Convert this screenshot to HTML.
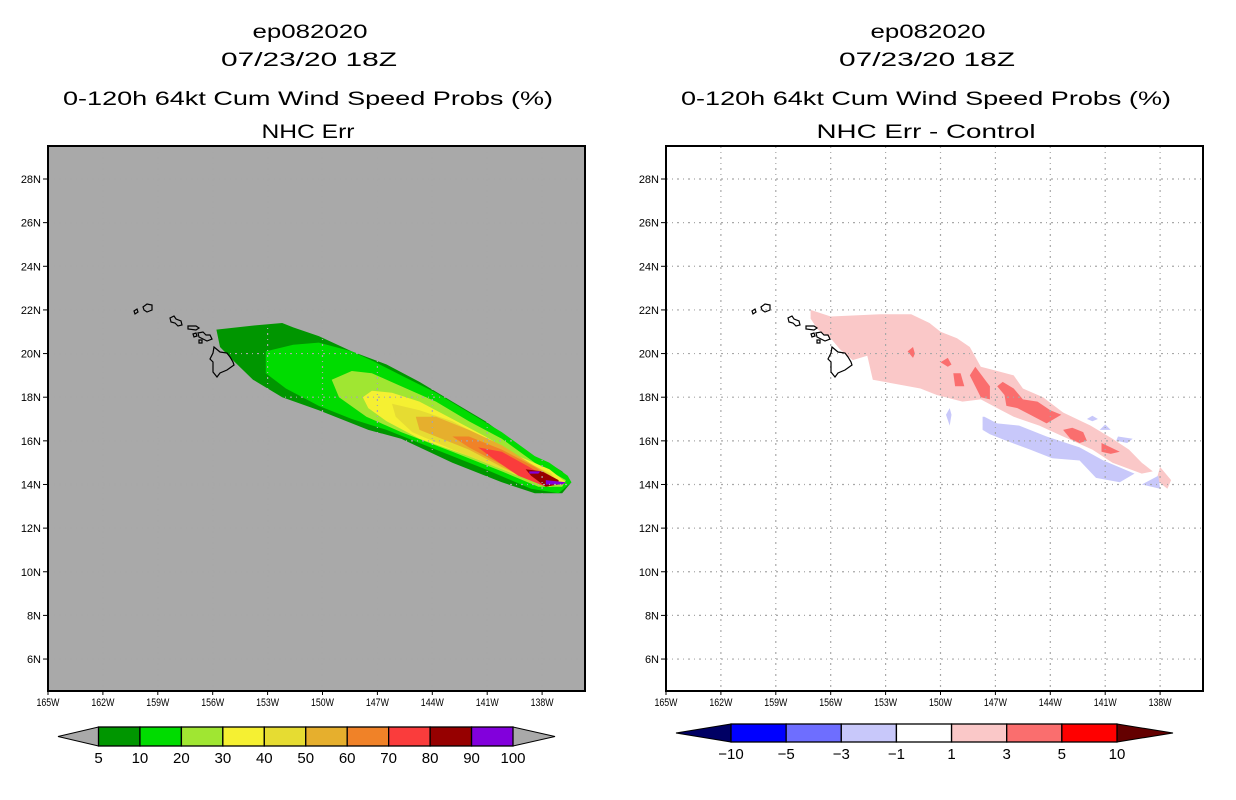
<!DOCTYPE html>
<html><head><meta charset="utf-8">
<style>
html,body{margin:0;padding:0;background:#fff;}
svg{display:block;}
text{font-family:"Liberation Sans",sans-serif;fill:#000;}
</style></head>
<body>
<svg id="chart" width="1236" height="800" viewBox="0 0 1236 800" xmlns="http://www.w3.org/2000/svg">
<g id="titles">
  <text x="310" y="38" font-size="19" text-anchor="middle" textLength="115" lengthAdjust="spacingAndGlyphs">ep082020</text>
  <text x="309" y="66" font-size="19" text-anchor="middle" textLength="176" lengthAdjust="spacingAndGlyphs">07/23/20 18Z</text>
  <text x="308" y="105" font-size="19" text-anchor="middle" textLength="490" lengthAdjust="spacingAndGlyphs">0-120h 64kt Cum Wind Speed Probs (%)</text>
  <text x="308" y="138" font-size="19" text-anchor="middle" textLength="93" lengthAdjust="spacingAndGlyphs">NHC Err</text>
  <text x="928" y="38" font-size="19" text-anchor="middle" textLength="115" lengthAdjust="spacingAndGlyphs">ep082020</text>
  <text x="927" y="66" font-size="19" text-anchor="middle" textLength="176" lengthAdjust="spacingAndGlyphs">07/23/20 18Z</text>
  <text x="926" y="105" font-size="19" text-anchor="middle" textLength="490" lengthAdjust="spacingAndGlyphs">0-120h 64kt Cum Wind Speed Probs (%)</text>
  <text x="926" y="138" font-size="19" text-anchor="middle" textLength="219" lengthAdjust="spacingAndGlyphs">NHC Err - Control</text>
</g>
<g id="leftPanel"></g>
<g id="rightPanel"></g>
<g id="leftBar"></g>
<g id="rightBar"></g>
</svg>
<script>
// ---------- data ----------
const lonTicks = [165,162,159,156,153,150,147,144,141,138];
const latTicks = [6,8,10,12,14,16,18,20,22,24,26,28];
const probLevels = ["5","10","20","30","40","50","60","70","80","90","100"];
const probColors = ["#009600","#00dc00","#a0e632","#f5f032","#e6dc32","#e6af2d","#f08228","#fa3c3c","#960000","#8200dc"];
const diffLevels = ["-10","-5","-3","-1","1","3","5","10"];
const diffColors = ["#0000ff","#6e6eff","#c8c8fa","#ffffff","#fac8c8","#fa6e6e","#ff0000"];
// probability contours (lon deg W, lat deg N)
const p5Lon = [155.8,153.6,152.2,151.6,150.2,148.4,146.5,144.7,142.9,141.1,139.3,138.2,137.5,136.9,136.4,136.9,138.4,140.2,142.9,145.7,147.5,150.2,152.2,153.8,154.9,155.6];
const p5Lat = [21.1,21.3,21.4,21.2,20.8,20.1,19.5,18.7,17.8,16.9,15.8,15.0,14.9,14.6,14.1,13.6,13.6,14.1,15.0,16.1,16.5,17.4,18.0,18.8,19.7,20.3];
const p10Lon = [153.1,151.6,150.2,148.4,147.1,145.7,143.8,142.0,140.2,138.4,137.6,136.6,136.4,137.1,138.6,141.1,143.8,146.5,148.4,150.2,152.0,153.1];
const p10Lat = [20.1,20.4,20.5,20.1,19.6,19.0,18.2,17.3,16.4,15.3,15.0,14.4,14.1,13.6,13.8,14.7,15.6,16.5,17.0,17.6,18.4,19.1];
const p20Lon = [149.5,148.4,147.3,145.7,143.8,142.0,140.2,138.4,136.7,136.9,138.2,140.2,142.9,145.7,147.6,149.1];
const p20Lat = [18.8,19.2,19.1,18.5,17.8,16.9,16.1,15.0,14.2,13.9,13.9,14.6,15.5,16.4,17.1,18.0];
const p30Lon = [147.8,147.3,146.2,144.7,142.9,141.1,139.3,137.6,136.7,137.6,139.3,142.0,144.7,146.5,147.5];
const p30Lat = [18.0,18.3,18.2,17.8,17.0,16.2,15.3,14.7,14.1,13.9,14.4,15.3,16.1,16.9,17.5];
const p40Lon = [146.2,144.7,142.9,141.1,139.3,137.5,137.1,138.4,140.2,142.9,145.1,146.0];
const p40Lat = [17.7,17.4,16.9,16.1,15.2,14.5,14.1,14.1,14.7,15.6,16.4,17.1];
const p50Lon = [144.9,143.8,142.0,140.2,138.7,137.5,138.4,140.2,142.0,143.8,144.7];
const p50Lat = [17.1,17.1,16.5,15.8,15.0,14.4,14.1,14.8,15.6,16.2,16.5];
const p60Lon = [142.9,142.0,140.2,138.4,137.5,138.4,140.2,142.0];
const p60Lat = [16.2,16.2,15.6,14.8,14.3,14.1,14.9,15.7];
const p70Lon = [141.5,140.2,138.7,137.5,137.8,139.3,140.7];
const p70Lat = [15.7,15.5,14.8,14.2,13.9,14.4,15.2];
const p80Lon = [138.9,138.0,137.1,137.1,137.8,138.6];
const p80Lat = [14.7,14.6,14.2,14.0,13.9,14.4];
const p90aLon = [137.8,136.7,136.9,137.8];
const p90aLat = [14.2,14.1,14.0,14.0];
const p90bLon = [138.7,138.1,138.2,138.7];
const p90bLat = [14.6,14.6,14.5,14.5];
// difference contours
const d1Lon = [157.1,156.0,153.3,151.6,150.6,150.0,149.1,148.4,147.8,146.9,146.0,145.5,144.4,143.3,141.8,140.6,139.7,139.0,138.4,139.0,140.6,141.7,143.3,144.6,146.0,146.9,147.8,148.8,150.2,151.1,152.4,153.7,154.0,154.8,155.5,156.0,156.7,157.1];
const d1Lat = [22.0,21.7,21.8,21.8,21.4,21.0,20.7,20.3,19.4,19.2,19.0,18.4,18.0,17.3,16.7,16.1,15.6,15.0,14.6,14.5,15.0,15.6,16.2,16.7,17.1,17.5,17.9,17.8,18.1,18.4,18.6,18.8,19.9,19.7,20.2,20.7,21.1,21.6];
const d1bLon = [138.0,137.4,137.6,138.2];
const d1bLat = [14.8,14.2,13.8,14.2];
const d3aLon = [151.8,151.5,151.4,151.5]; const d3aLat = [20.1,20.3,20.0,19.8];
const d3bLon = [150.0,149.6,149.4,149.6]; const d3bLat = [19.6,19.8,19.5,19.4];
const d3cLon = [149.3,148.9,148.7,149.2]; const d3cLat = [19.1,19.1,18.5,18.5];
const d3dLon = [148.4,148.1,147.3,147.3,147.8]; const d3dLat = [19.0,19.4,18.5,17.9,18.0];
const d3eLon = [146.9,146.6,146.0,145.5,144.7,144.0,143.4,144.2,145.1,145.8,146.4,146.5];
const d3eLat = [18.5,18.7,18.4,17.9,17.8,17.4,17.2,16.8,17.2,17.5,17.6,18.1];
const d3fLon = [143.3,142.8,142.2,142.0,142.4,142.9]; const d3fLat = [16.5,16.6,16.4,16.0,15.9,16.1];
const d3gLon = [141.2,140.7,140.2,140.7,141.2]; const d3gLat = [15.9,15.7,15.5,15.4,15.5];
const dm1Lon = [147.7,147.6,146.9,145.7,144.2,142.4,141.1,139.4,140.2,141.5,142.4,143.9,145.1,146.4,147.3,147.7];
const dm1Lat = [17.1,17.1,16.8,16.7,16.2,15.7,15.1,14.5,14.1,14.3,15.1,15.2,15.6,16.0,16.3,16.5];
const dm1bLon = [149.7,149.5,149.4,149.5]; const dm1bLat = [17.2,17.5,17.2,16.7];
const dm1cLon = [142.0,141.7,141.4,141.7]; const dm1cLat = [17.0,17.15,17.0,16.9];
const dm1dLon = [141.3,141.0,140.7]; const dm1dLat = [16.5,16.75,16.5];
const dm1eLon = [140.3,139.5,139.8,140.4]; const dm1eLat = [16.2,16.1,15.9,16.0];
const dm1fLon = [139.0,138.1,138.0]; const dm1fLat = [14.0,14.4,13.8];

// ---------- axes ----------
const NS = "http://www.w3.org/2000/svg";
const PX_LON = 18.3, PX_LAT = 21.82, TOP = 146, BOT = 691;
function xs(lon, x0){ return x0 + (165 - lon) * PX_LON; }
function ys(lat){ return 179 + (28 - lat) * PX_LAT; }
function mk(tag, attrs, parent){ const e = document.createElementNS(NS, tag); for (const k in attrs) e.setAttribute(k, attrs[k]); parent.appendChild(e); return e; }
function poly(parent, lons, lats, x0, fill, name){
  const pts = lons.map((l,i)=> xs(l,x0).toFixed(1)+","+ys(lats[i]).toFixed(1)).join(" ");
  const p = mk("polygon", {points: pts, fill: fill}, parent);
  
  
  return p;
}
const islands = [
 "M134,311 L137,309 L138,312 L135,314 Z",
 "M143,307 L147,304 L152,305 L152,310 L147,312 L144,310 Z",
 "M170,318 L174,316 L176,319 L181,321 L182,325 L178,326 L175,323 L171,322 Z",
 "M188,326 L196,326 L199,328 L196,330 L188,329 Z",
 "M198,333 L203,332 L206,335 L210,335 L212,339 L207,341 L203,339 L199,337 Z",
 "M193,334 L196,333 L197,336 L194,337 Z",
 "M199,340 L202,340 L202,343 L199,343 Z",
 "M214,347 L220,352 L227,353 L230,357 L233,362 L234,365 L227,370 L220,373 L217,377 L213,372 L213,362 L210,359 L213,353 Z"
];
function panel(g, x0, bg, isDiff){
  const W = 537;
  const clipId = "clip"+x0;
  const defs = mk("defs", {}, g);
  const cp = mk("clipPath", {id: clipId}, defs);
  mk("rect", {x:x0, y:TOP, width:W, height:BOT-TOP}, cp);
  const bgr = mk("rect", {x:x0, y:TOP, width:W, height:BOT-TOP, fill:bg}, g);
  
  
  const fills = mk("g", {"clip-path":"url(#"+clipId+")"}, g);
  if (!isDiff){
    const L = [[p5Lon,p5Lat],[p10Lon,p10Lat],[p20Lon,p20Lat],[p30Lon,p30Lat],[p40Lon,p40Lat],[p50Lon,p50Lat],[p60Lon,p60Lat],[p70Lon,p70Lat],[p80Lon,p80Lat],[p90aLon,p90aLat],[p90bLon,p90bLat]];
    const ci = [0,1,2,3,4,5,6,7,8,9,9];
    L.forEach((d,i)=> poly(fills, d[0], d[1], x0, probColors[ci[i]], "prob-contour-"+probLevels[ci[i]]));
  } else {
    poly(fills, d1Lon, d1Lat, x0, diffColors[4], "diff-contour-plus1");
    poly(fills, d1bLon, d1bLat, x0, diffColors[4], "diff-contour-plus1-tip");
    [[d3aLon,d3aLat],[d3bLon,d3bLat],[d3cLon,d3cLat],[d3dLon,d3dLat],[d3eLon,d3eLat],[d3fLon,d3fLat],[d3gLon,d3gLat]].forEach(d=>poly(fills,d[0],d[1],x0,diffColors[5],"diff-contour-plus3"));
    [[dm1Lon,dm1Lat],[dm1bLon,dm1bLat],[dm1cLon,dm1cLat],[dm1dLon,dm1dLat],[dm1eLon,dm1eLat],[dm1fLon,dm1fLat]].forEach(d=>poly(fills,d[0],d[1],x0,diffColors[2],"diff-contour-minus1"));
  }
  // grid
  const grid = mk("g", {stroke:"#a8a8a8", "stroke-width":1.2, "stroke-dasharray":"2,4,1,4"}, g);
  
  
  lonTicks.slice(1).forEach(l=> mk("line",{x1:xs(l,x0),x2:xs(l,x0),y1:TOP,y2:BOT}, grid));
  latTicks.forEach(l=> mk("line",{x1:x0,x2:x0+W,y1:ys(l),y2:ys(l)}, grid));
  // islands
  const isl = mk("g", {fill:"none", stroke:"#000", "stroke-width":1.2, transform:"translate("+(x0-48)+",0)"}, g);
  
  
  islands.forEach(d=> mk("path",{d:d}, isl));
  // frame
  const fr = mk("rect", {x:x0, y:TOP, width:W, height:BOT-TOP, fill:"none", stroke:"#000", "stroke-width":2}, g);
  
  
  // ticks
  lonTicks.forEach(l=>{
    const x = xs(l,x0);
    mk("line",{x1:x,x2:x,y1:BOT,y2:BOT+4,stroke:"#000"}, g);
    const t = mk("text",{x:x, y:706, "font-size":11, "text-anchor":"middle", textLength:23, lengthAdjust:"spacingAndGlyphs"}, g);
    t.textContent = l+"W";
    
    
  });
  latTicks.forEach(l=>{
    const y = ys(l);
    mk("line",{x1:x0-5,x2:x0,y1:y,y2:y,stroke:"#000"}, g);
    const t = mk("text",{x:x0-7, y:y+4, "font-size":11, "text-anchor":"end"}, g);
    t.textContent = l+"N";
    
    
  });
}
panel(document.getElementById("leftPanel"), 48, "#a9a9a9", false);
panel(document.getElementById("rightPanel"), 666, "#ffffff", true);

function colorbar(g, xStart, xEnd, tipL, tipR, y0, y1, colors, labels, leftTri, rightTri){
  const n = colors.length, w = (xEnd - xStart)/n, ym = (y0+y1)/2;
  const tl = mk("polygon",{points:tipL+","+ym+" "+xStart+","+y0+" "+xStart+","+y1, fill:leftTri, stroke:"#000","stroke-width":1}, g);
  
  
  const tr = mk("polygon",{points:tipR+","+ym+" "+xEnd+","+y0+" "+xEnd+","+y1, fill:rightTri, stroke:"#000","stroke-width":1}, g);
  
  
  colors.forEach((c,i)=>{
    const r = mk("rect",{x:xStart+i*w, y:y0, width:w, height:y1-y0, fill:c, stroke:"#000","stroke-width":1.3}, g);
    
    
  });
  labels.forEach((s,i)=>{
    const t = mk("text",{x:xStart+i*w, y:y1+17, "font-size":15, "text-anchor":"middle"}, g);
    t.textContent = s.replace("-", "\u2212");
    
    
  });
}
colorbar(document.getElementById("leftBar"), 98.5, 513, 58, 555, 727, 746, probColors, probLevels, "#a9a9a9", "#a9a9a9");
colorbar(document.getElementById("rightBar"), 731, 1117, 676, 1173, 724, 742, diffColors, diffLevels, "#000064", "#640000");
</script>
</body></html>
